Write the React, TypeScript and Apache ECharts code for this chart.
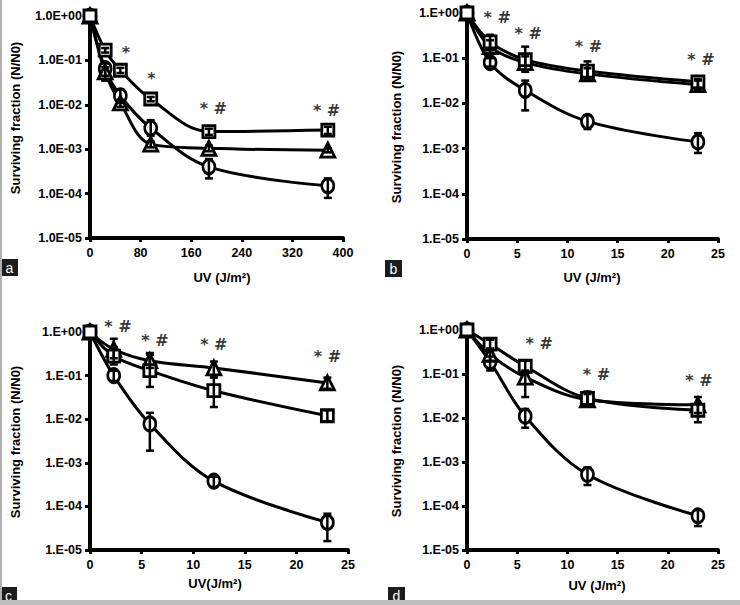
import React, { useEffect, useRef } from 'react';
import * as echarts from 'echarts';

// ---------- data ----------
const panelLetters = ['a', 'b', 'c', 'd'];
const doseA = [0, 24, 48, 96, 188, 376];
const doseBCD = [0, 2.3, 5.8, 12, 23];

const xTicksA = { min: 0, max: 400, interval: 80 };
const xTicksBCD = { min: 0, max: 25, interval: 5 };

const yTickLabelsA = ['1.0E-05', '1.0E-04', '1.0E-03', '1.0E-02', '1.0E-01', '1.0E+00'];
const yTickLabelsBCD = ['1.E-05', '1.E-04', '1.E-03', '1.E-02', '1.E-01', '1.E+00'];

const xTitles = ['UV (J/m²)', 'UV (J/m²)', 'UV(J/m²)', 'UV (J/m²)'];
const yTitle = 'Surviving fraction (N/N0)';

// panel a
const aCircle = [1, 0.065, 0.016, 0.003, 0.0004, 0.00015];
const aCircleLow = [1, 0.045, 0.011, 0.002, 0.00022, 0.00008];
const aCircleHigh = [1, 0.085, 0.022, 0.0045, 0.0006, 0.00022];
const aSquare = [1, 0.17, 0.06, 0.0135, 0.0025, 0.0027];
const aSquareLow = [1, 0.15, 0.052, 0.012, 0.0021, 0.0022];
const aSquareHigh = [1, 0.19, 0.068, 0.015, 0.0029, 0.0032];
const aTriangle = [1, 0.055, 0.011, 0.0013, 0.00105, 0.00095];
const aTriangleLow = [1, 0.035, 0.009, 0.0011, 0.0009, 0.00085];
const aTriangleHigh = [1, 0.07, 0.013, 0.0015, 0.0012, 0.00105];

// panel b
const bCircle = [1, 0.08, 0.0195, 0.004, 0.0014];
const bCircleLow = [1, 0.065, 0.007, 0.0027, 0.0008];
const bCircleHigh = [1, 0.1, 0.032, 0.0055, 0.0022];
const bSquare = [1, 0.23, 0.093, 0.052, 0.03];
const bSquareLow = [1, 0.15, 0.05, 0.035, 0.022];
const bSquareHigh = [1, 0.33, 0.18, 0.085, 0.035];
const bTriangle = [1, 0.18, 0.08, 0.045, 0.026];
const bTriangleLow = [1, 0.13, 0.055, 0.032, 0.02];
const bTriangleHigh = [1, 0.25, 0.11, 0.06, 0.032];

// panel c
const cCircle = [1, 0.1, 0.0078, 0.00038, 0.000043];
const cCircleLow = [1, 0.075, 0.0019, 0.00028, 0.000016];
const cCircleHigh = [1, 0.13, 0.014, 0.00048, 0.000068];
const cSquare = [1, 0.28, 0.13, 0.045, 0.012];
const cSquareLow = [1, 0.18, 0.055, 0.019, 0.009];
const cSquareHigh = [1, 0.45, 0.3, 0.09, 0.016];
const cTriangle = [1, 0.4, 0.22, 0.15, 0.068];
const cTriangleLow = [1, 0.25, 0.15, 0.1, 0.05];
const cTriangleHigh = [1, 0.7, 0.33, 0.21, 0.09];

// panel d
const dCircle = [1, 0.19, 0.011, 0.00052, 0.00006];
const dCircleLow = [1, 0.12, 0.006, 0.0003, 0.000035];
const dCircleHigh = [1, 0.25, 0.016, 0.00075, 0.00008];
const dSquare = [1, 0.48, 0.15, 0.028, 0.015];
const dSquareLow = [1, 0.33, 0.1, 0.018, 0.008];
const dSquareHigh = [1, 0.6, 0.2, 0.04, 0.022];
const dTriangle = [1, 0.28, 0.085, 0.026, 0.02];
const dTriangleLow = [1, 0.2, 0.03, 0.02, 0.013];
const dTriangleHigh = [1, 0.38, 0.12, 0.035, 0.03];

// significance marks: [dose, y, text]
const annotA: [number, number, string][] = [[57, 0.15, '*'], [97, 0.039, '*'], [195, 0.0083, '* #'], [374, 0.0076, '* #']];
const annotB: [number, number, string][] = [[3.0, 0.78, '* #'], [6.1, 0.36, '* #'], [12.1, 0.18, '* #'], [23.3, 0.093, '* #']];
const annotC: [number, number, string][] = [[2.7, 1.35, '* #'], [6.3, 0.64, '* #'], [12.0, 0.51, '* #'], [23.0, 0.28, '* #']];
const annotD: [number, number, string][] = [[7.2, 0.5, '* #'], [12.9, 0.1, '* #'], [23.1, 0.073, '* #']];

// ---------- layout ----------
const grids = [
  { left: 90, top: 16, width: 253, height: 222 },
  { left: 467, top: 13, width: 251, height: 226 },
  { left: 90, top: 332, width: 258, height: 218 },
  { left: 467, top: 330, width: 251, height: 220 },
];
const xTitlePos = [[222, 277], [592, 277], [215, 583], [597, 585]];
const yTitlePos = [[15, 118], [396, 127], [15, 442], [396, 441]];
const letterBoxes = [[1, 259], [385, 260], [0, 587], [388, 587]];

const FONT = 'Liberation Sans, Arial, Helvetica, sans-serif';
const MARK_FONT = 'DejaVu Sans, Liberation Sans, sans-serif';

type Trio = { y: number[]; lo: number[]; hi: number[]; symbol: string; size: number | number[] };

const panels = [
  {
    x: doseA, ticks: xTicksA, yLabels: yTickLabelsA, annot: annotA,
    sets: [
      { y: aCircle, lo: aCircleLow, hi: aCircleHigh, symbol: 'circle', size: [12, 14] },
      { y: aTriangle, lo: aTriangleLow, hi: aTriangleHigh, symbol: 'triangle', size: 14 },
      { y: aSquare, lo: aSquareLow, hi: aSquareHigh, symbol: 'rect', size: 12 },
    ] as Trio[],
  },
  {
    x: doseBCD, ticks: xTicksBCD, yLabels: yTickLabelsBCD, annot: annotB,
    sets: [
      { y: bCircle, lo: bCircleLow, hi: bCircleHigh, symbol: 'circle', size: [12, 14] },
      { y: bTriangle, lo: bTriangleLow, hi: bTriangleHigh, symbol: 'triangle', size: 14 },
      { y: bSquare, lo: bSquareLow, hi: bSquareHigh, symbol: 'rect', size: 12 },
    ] as Trio[],
  },
  {
    x: doseBCD, ticks: xTicksBCD, yLabels: yTickLabelsBCD, annot: annotC,
    sets: [
      { y: cCircle, lo: cCircleLow, hi: cCircleHigh, symbol: 'circle', size: [12, 14] },
      { y: cTriangle, lo: cTriangleLow, hi: cTriangleHigh, symbol: 'triangle', size: 14 },
      { y: cSquare, lo: cSquareLow, hi: cSquareHigh, symbol: 'rect', size: 12 },
    ] as Trio[],
  },
  {
    x: doseBCD, ticks: xTicksBCD, yLabels: yTickLabelsBCD, annot: annotD,
    sets: [
      { y: dCircle, lo: dCircleLow, hi: dCircleHigh, symbol: 'circle', size: [12, 14] },
      { y: dTriangle, lo: dTriangleLow, hi: dTriangleHigh, symbol: 'triangle', size: 14 },
      { y: dSquare, lo: dSquareLow, hi: dSquareHigh, symbol: 'rect', size: 12 },
    ] as Trio[],
  },
];

function buildOption() {
  const xAxis: any[] = [];
  const yAxis: any[] = [];
  const series: any[] = [];
  const graphic: any[] = [];

  panels.forEach((p, i) => {
    xAxis.push({
      type: 'value', gridIndex: i, min: p.ticks.min, max: p.ticks.max, interval: p.ticks.interval,
      axisLine: { show: true, onZero: false, lineStyle: { color: '#000', width: 4 } },
      axisTick: { show: true, length: 4, lineStyle: { color: '#000', width: 3 } },
      axisLabel: { color: '#000', fontSize: 12.5, fontWeight: 'bold', fontFamily: FONT, margin: 8 },
      splitLine: { show: false },
    });
    const labels = p.yLabels;
    yAxis.push({
      type: 'log', logBase: 10, gridIndex: i, min: 1e-5, max: 1,
      axisLine: { show: true, lineStyle: { color: '#000', width: 4 } },
      axisTick: { show: true, length: 5, lineStyle: { color: '#000', width: 3 } },
      axisLabel: {
        color: '#000', fontSize: 12.5, fontWeight: 'bold', fontFamily: FONT, margin: 8,
        formatter: (v: number) => labels[Math.round(Math.log10(v)) + 5] ?? '',
      },
      splitLine: { show: false },
    });

    p.sets.forEach((s) => {
      series.push({
        type: 'line', xAxisIndex: i, yAxisIndex: i,
        data: p.x.map((xv, k) => [xv, s.y[k]]),
        smooth: 0.35, symbol: s.symbol, symbolSize: s.size, showAllSymbol: true,
        lineStyle: { color: '#000', width: 3 },
        itemStyle: { color: '#fff', borderColor: '#000', borderWidth: 2.8 },
        z: 2,
      });
    });
    const errData: number[][] = [];
    p.sets.forEach((s) => {
      p.x.forEach((xv, k) => {
        if (s.hi[k] > s.lo[k]) errData.push([xv, s.lo[k], s.hi[k]]);
      });
    });
    series.push({
      type: 'custom', xAxisIndex: i, yAxisIndex: i, z: 4,
      data: errData,
      encode: { x: 0, y: [1, 2] },
      renderItem: (params: any, api: any) => {
        const xv = api.value(0);
        const p1 = api.coord([xv, api.value(1)]);
        const p2 = api.coord([xv, api.value(2)]);
        const w = 4;
        const st = { stroke: '#000', lineWidth: 2.5 };
        return {
          type: 'group',
          children: [
            { type: 'line', shape: { x1: p1[0], y1: p1[1], x2: p2[0], y2: p2[1] }, style: st },
            { type: 'line', shape: { x1: p1[0] - w, y1: p1[1], x2: p1[0] + w, y2: p1[1] }, style: st },
            { type: 'line', shape: { x1: p2[0] - w, y1: p2[1], x2: p2[0] + w, y2: p2[1] }, style: st },
          ],
        };
      },
    });
    series.push({
      type: 'scatter', xAxisIndex: i, yAxisIndex: i, clip: false, z: 5,
      symbolSize: 1, itemStyle: { color: 'rgba(0,0,0,0)' },
      data: p.annot.map((a) => ({ value: [a[0], a[1]], name: a[2] })),
      label: {
        show: true, position: 'inside', formatter: (d: any) => d.name,
        color: '#000', fontSize: 16, fontWeight: 'bold', fontFamily: MARK_FONT,
      },
    });

    graphic.push({
      type: 'text', x: xTitlePos[i][0], y: xTitlePos[i][1],
      style: { text: xTitles[i], fill: '#000', font: `bold 13px ${FONT}`, textAlign: 'center', textVerticalAlign: 'middle' },
    });
    graphic.push({
      type: 'text', x: yTitlePos[i][0], y: yTitlePos[i][1], rotation: Math.PI / 2,
      style: { text: yTitle, fill: '#000', font: `bold 13px ${FONT}`, textAlign: 'center', textVerticalAlign: 'middle' },
    });
    graphic.push({
      type: 'rect', shape: { x: letterBoxes[i][0], y: letterBoxes[i][1], width: 17, height: 17 },
      style: { fill: '#1c1c1c' },
    });
    graphic.push({
      type: 'text', x: letterBoxes[i][0] + 8.5, y: letterBoxes[i][1] + 8.5,
      style: { text: panelLetters[i], fill: '#fff', font: `14px ${FONT}`, textAlign: 'center', textVerticalAlign: 'middle' },
    });
  });

  graphic.push({ type: 'rect', shape: { x: 0, y: 0, width: 2, height: 605 }, style: { fill: '#b0b0b0' } });
  graphic.push({ type: 'rect', shape: { x: 0, y: 600, width: 740, height: 5 }, style: { fill: '#bdbdbd' } });

  return {
    animation: false,
    backgroundColor: '#fff',
    grid: grids.map((g) => ({ ...g, containLabel: false })),
    xAxis, yAxis, series, graphic,
  };
}

export default function App() {
  const ref = useRef<HTMLDivElement>(null);
  useEffect(() => {
    if (!ref.current) return;
    const chart = echarts.init(ref.current, null, { renderer: 'svg' });
    chart.setOption(buildOption() as any);
    return () => chart.dispose();
  }, []);
  return <div ref={ref} style={{ position: 'absolute', left: 0, top: 0, width: 740, height: 605 }} />;
}
